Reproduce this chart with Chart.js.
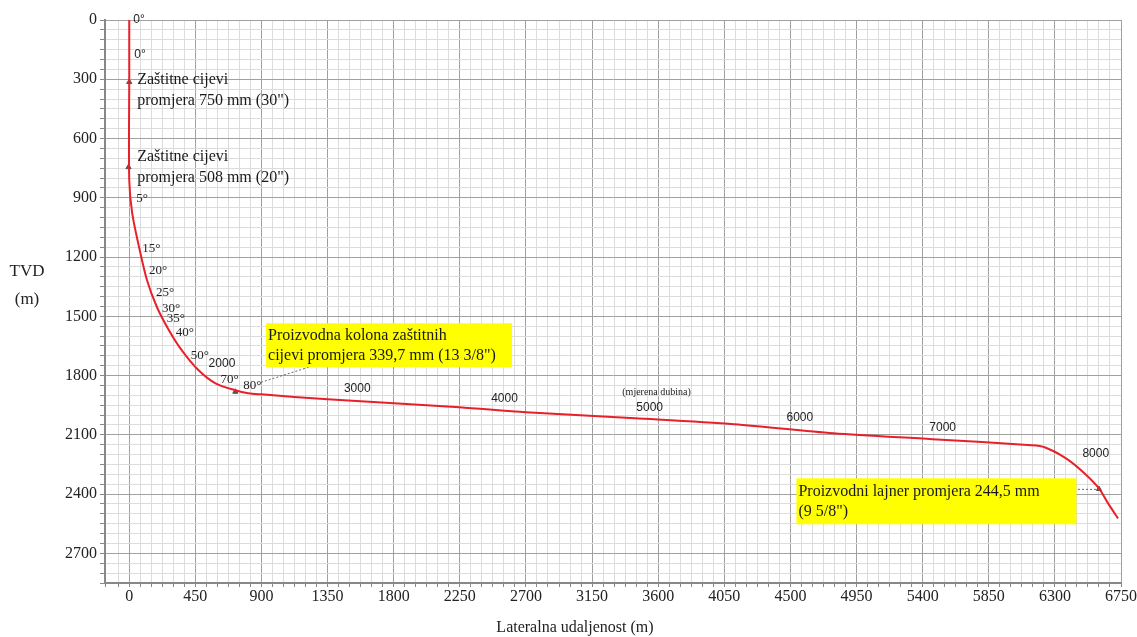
<!DOCTYPE html>
<html>
<head>
<meta charset="utf-8">
<script src="https://cdn.jsdelivr.net/npm/chart.js@4.4.1/dist/chart.umd.min.js"></script>
<style>
  html, body { margin: 0; padding: 0; background: #fff; }
</style>
</head>
<body>
<canvas id="wellChart" width="1137" height="637"></canvas>
<script>
// well path: lateral distance vs true vertical depth (m)
const lateral = [0, 0, 0, 20, 67, 121, 189, 270, 358, 472, 587, 722, 810, 898, 1350, 1802, 2248, 2700, 3442, 4117, 4792, 5467, 6142, 6230, 6365, 6480, 6595, 6662, 6730];
const tvd = [0, 300, 810, 978, 1150, 1317, 1454, 1570, 1672, 1773, 1839, 1874, 1889, 1895, 1920, 1940, 1960, 1986, 2016, 2046, 2092, 2122, 2153, 2163, 2214, 2280, 2366, 2447, 2523];

// casing shoes
const shoeLateral = [0, -5, 722, 6600];
const shoeTvd = [314, 745, 1882, 2374];

// inclination along the path
const angleLabels = ["0°", "0°", "5°", "15°", "20°", "25°", "30°", "35°", "40°", "50°", "70°", "80°"];
const angleLateral = [27, 34, 47, 88, 135, 182, 223, 256, 317, 418, 621, 776];
const angleTvd = [0, 177, 902, 1155, 1267, 1378, 1459, 1510, 1581, 1697, 1819, 1849];

// measured depth marks
const mdLabels = ["2000", "3000", "4000", "5000", "6000", "7000", "8000"];
const mdLateral = [631, 1552, 2554, 3542, 4564, 5536, 6578];
const mdTvd = [1738, 1864, 1915, 1961, 2011, 2062, 2194];

// axis ticks
const xMajor = 450, xMinor = 75;
const yMajor = 300, yMinor = 50;

const serif = "'Liberation Serif', 'Times New Roman', serif";
const sans = "'Liberation Sans', Arial, sans-serif";

const wellNotes = {
  id: "wellNotes",
  afterDatasetsDraw(chart) {
    const { ctx, scales: { x, y } } = chart;
    const px = v => x.getPixelForValue(v);
    const py = v => y.getPixelForValue(v);
    ctx.save();

    // dashed leaders to the casing boxes
    ctx.setLineDash([2, 2]);
    ctx.strokeStyle = "#666";
    ctx.lineWidth = 1;
    ctx.beginPath();
    ctx.moveTo(px(897), py(1834));
    ctx.lineTo(px(1262), py(1748));
    ctx.moveTo(px(6430), py(2376));
    ctx.lineTo(px(6599), py(2376));
    ctx.stroke();
    ctx.setLineDash([]);

    // yellow note boxes
    const boxes = [
      { lat: 931, depth: 1535, w: 246, h: 44, lines: ["Proizvodna kolona zaštitnih", "cijevi promjera 339,7 mm (13 3/8\")"] },
      { lat: 4541, depth: 2320, w: 280, h: 46, lines: ["Proizvodni lajner promjera 244,5 mm", "(9 5/8\")"] }
    ];
    ctx.font = "16px " + serif;
    ctx.textBaseline = "middle";
    ctx.textAlign = "left";
    boxes.forEach(b => {
      const bx = px(b.lat), by = py(b.depth);
      ctx.fillStyle = "#ffff00";
      ctx.fillRect(bx, by, b.w, b.h);
      ctx.fillStyle = "#1a1a1a";
      b.lines.forEach((t, i) => ctx.fillText(t, bx + 2, by + 13 + i * 20));
    });

    // casing text near the vertical section
    const casing = [
      { depth: 304, lines: ["Zaštitne cijevi", "promjera 750 mm (30\")"] },
      { depth: 694, lines: ["Zaštitne cijevi", "promjera 508 mm (20\")"] }
    ];
    ctx.font = "16px " + serif;
    casing.forEach(c => {
      c.lines.forEach((t, i) => ctx.fillText(t, px(54), py(c.depth) + i * 21));
    });

    // inclination labels
    angleLabels.forEach((t, i) => {
      ctx.font = (i < 2 ? "12px " + sans : "13px " + serif);
      ctx.fillStyle = "#222";
      ctx.fillText(t, px(angleLateral[i]), py(angleTvd[i]));
    });

    // measured depth labels
    ctx.textAlign = "center";
    ctx.font = "12px " + sans;
    mdLabels.forEach((t, i) => ctx.fillText(t, px(mdLateral[i]), py(mdTvd[i])));
    ctx.font = "10px " + serif;
    ctx.fillText("(mjerena dubina)", px(3589), py(1884));

    ctx.restore();
  },
  afterDraw(chart) {
    const { ctx, chartArea } = chart;
    ctx.save();
    ctx.fillStyle = "#222";
    ctx.font = "17px " + serif;
    ctx.textAlign = "center";
    ctx.textBaseline = "middle";
    ctx.fillText("TVD", 27, 272);
    ctx.fillText("(m)", 27, 300);
    ctx.font = "16px " + serif;
    ctx.fillText("Lateralna udaljenost (m)", 575, 628);
    ctx.restore();
  }
};

const majorOrMinor = (step, major, minor) => ctx => {
  const v = ctx.tick && ctx.tick.value;
  if (v === undefined) return minor;
  if (Math.abs(v % step) < 1e-6) return major;
  return minor;
};

new Chart(document.getElementById("wellChart").getContext("2d"), {
  type: "line",
  data: {
    datasets: [
      {
        label: "Putanja",
        data: lateral.map((v, i) => ({ x: v, y: tvd[i] })),
        borderColor: "#e8202a",
        borderWidth: 2,
        pointRadius: 0,
        tension: 0.3,
        fill: false
      },
      {
        label: "Papuča",
        data: shoeLateral.map((v, i) => ({ x: v, y: shoeTvd[i] })),
        showLine: false,
        pointStyle: "triangle",
        pointRadius: 3,
        backgroundColor: "#555",
        borderColor: "#555",
        borderWidth: 1
      }
    ]
  },
  options: {
    responsive: false,
    animation: false,
    layout: { padding: { top: 20, right: 0, left: 0, bottom: 0 } },
    plugins: {
      legend: { display: false },
      tooltip: { enabled: false }
    },
    scales: {
      x: {
        type: "linear",
        min: -165,
        max: 6750,
        afterFit(scale) { scale.height = 54; },
        border: { color: "#888", width: 2 },
        grid: {
          color: majorOrMinor(xMajor, "#a0a0a0", "#dcdcdc"),
          tickColor: "#888",
          tickLength: 4
        },
        ticks: {
          stepSize: xMinor,
          autoSkip: false,
          maxRotation: 0,
          padding: 0,
          color: "#222",
          font: { family: serif, size: 16 },
          callback: v => (v >= 0 && v % xMajor === 0 ? v : "")
        }
      },
      y: {
        type: "linear",
        reverse: true,
        min: 0,
        max: 2850,
        afterFit(scale) { scale.width = 105; },
        border: { color: "#888", width: 2 },
        grid: {
          color: majorOrMinor(yMajor, "#a0a0a0", "#dcdcdc"),
          tickColor: "#888",
          tickLength: 5
        },
        ticks: {
          stepSize: yMinor,
          autoSkip: false,
          padding: 3,
          color: "#222",
          font: { family: serif, size: 16 },
          callback: v => (v % yMajor === 0 ? v : "")
        }
      }
    }
  },
  plugins: [wellNotes]
});
</script>
</body>
</html>
